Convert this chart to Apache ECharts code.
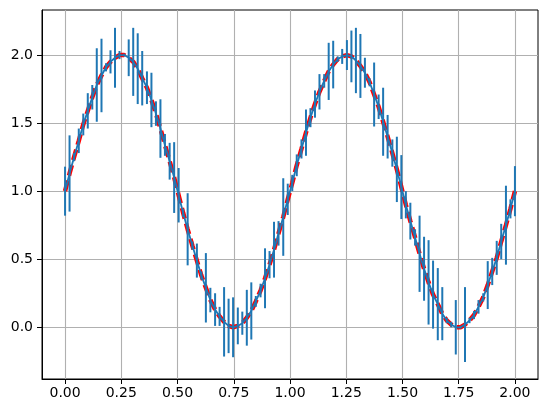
<!DOCTYPE html>
<html>
<head>
<meta charset="utf-8">
<style>
    html, body { margin: 0; padding: 0; background: #fff; }
    #main { width: 547px; height: 413px; }
</style>
<script src="https://cdn.jsdelivr.net/npm/echarts@6/dist/echarts.min.js"></script>
</head>
<body>
<div id="main"></div>
<script>
    var xs = [0, 0.020, 0.040, 0.061, 0.081, 0.101, 0.121, 0.141, 0.162, 0.182,
        0.202, 0.222, 0.242, 0.263, 0.283, 0.303, 0.323, 0.343, 0.364, 0.384,
        0.404, 0.424, 0.444, 0.465, 0.485, 0.505, 0.525, 0.545, 0.566, 0.586,
        0.606, 0.626, 0.646, 0.667, 0.687, 0.707, 0.727, 0.747, 0.768, 0.788,
        0.808, 0.828, 0.848, 0.869, 0.889, 0.909, 0.929, 0.949, 0.970, 0.990,
        1.010, 1.030, 1.051, 1.071, 1.091, 1.111, 1.131, 1.152, 1.172, 1.192,
        1.212, 1.232, 1.253, 1.273, 1.293, 1.313, 1.333, 1.354, 1.374, 1.394,
        1.414, 1.434, 1.455, 1.475, 1.495, 1.515, 1.535, 1.556, 1.576, 1.596,
        1.616, 1.636, 1.657, 1.677, 1.697, 1.717, 1.737, 1.758, 1.778, 1.798,
        1.818, 1.838, 1.859, 1.879, 1.899, 1.919, 1.939, 1.960, 1.980, 2.000];
    var ys = [1.00, 1.13, 1.25, 1.37, 1.49, 1.59, 1.69, 1.78, 1.85, 1.91,
        1.95, 1.98, 2.00, 2.00, 1.98, 1.95, 1.90, 1.83, 1.76, 1.67,
        1.57, 1.46, 1.34, 1.22, 1.10, 0.97, 0.84, 0.72, 0.60, 0.49,
        0.38, 0.29, 0.20, 0.13, 0.08, 0.04, 0.01, 0.00, 0.01, 0.03,
        0.07, 0.12, 0.19, 0.27, 0.36, 0.46, 0.57, 0.69, 0.81, 0.94,
        1.06, 1.19, 1.31, 1.43, 1.54, 1.64, 1.73, 1.81, 1.88, 1.93,
        1.97, 1.99, 2.00, 1.99, 1.96, 1.92, 1.87, 1.80, 1.71, 1.62,
        1.51, 1.40, 1.28, 1.16, 1.03, 0.90, 0.78, 0.66, 0.54, 0.43,
        0.33, 0.24, 0.17, 0.10, 0.05, 0.02, 0.00, 0.00, 0.02, 0.05,
        0.09, 0.15, 0.22, 0.31, 0.41, 0.51, 0.63, 0.75, 0.87, 1.00];
    var yerr = [0.18, 0.28, 0.03, 0.09, 0.08, 0.13, 0.09, 0.27, 0.27, 0.03,
        0.085, 0.22, 0.03, 0.01, 0.135, 0.25, 0.26, 0.20, 0.12, 0.20,
        0.09, 0.215, 0.08, 0.135, 0.26, 0.20, 0.03, 0.265, 0.03, 0.125,
        0.03, 0.255, 0.09, 0.12, 0.07, 0.255, 0.20, 0.22, 0.135, 0.085,
        0.205, 0.21, 0.04, 0.05, 0.22, 0.10, 0.205, 0.09, 0.285, 0.115,
        0.06, 0.08, 0.07, 0.17, 0.07, 0.10, 0.13, 0.05, 0.21, 0.175,
        0.02, 0.055, 0.11, 0.19, 0.24, 0.235, 0.11, 0.03, 0.235, 0.09,
        0.25, 0.16, 0.10, 0.24, 0.235, 0.10, 0.135, 0.06, 0.28, 0.235,
        0.31, 0.25, 0.265, 0.195, 0.02, 0.02, 0.20, 0.01, 0.275, 0.02,
        0.03, 0.05, 0.03, 0.176, 0.10, 0.125, 0.13, 0.29, 0.07, 0.184];
    var xTicks = [0, 0.25, 0.5, 0.75, 1, 1.25, 1.5, 1.75, 2];
    var yTicks = [0, 0.5, 1, 1.5, 2];

    var myChart = echarts.init(document.getElementById('main'));

    var linePts = [];
    var barPts = [];
    for (var i = 0; i < xs.length; i++) {
        linePts.push([xs[i], ys[i]]);
        barPts.push([xs[i], ys[i], yerr[i]]);
    }

    var blue = '#1f77b4';
    var font = 'DejaVu Sans';

    var option = {
        animation: false,
        backgroundColor: '#fff',
        grid: {
            left: 42, top: 10, width: 496, height: 369,
            show: true, borderColor: '#000', borderWidth: 1, backgroundColor: 'transparent'
        },
        xAxis: {
            type: 'value',
            min: -0.1025,
            max: 2.1025,
            axisLine: { show: true, onZero: false, lineStyle: { color: '#000', width: 1 } },
            axisTick: { show: true, customValues: xTicks, length: 5, lineStyle: { color: '#000', width: 1 } },
            axisLabel: {
                customValues: xTicks, margin: 7, color: '#000', fontFamily: font, fontSize: 14,
                formatter: function (v) { return v.toFixed(2); }
            },
            splitLine: { show: true, lineStyle: { color: '#b0b0b0', width: 1.1 } }
        },
        yAxis: {
            type: 'value',
            min: -0.38,
            max: 2.331,
            axisLine: { show: true, onZero: false, lineStyle: { color: '#000', width: 1 } },
            axisTick: { show: true, customValues: yTicks, length: 5, lineStyle: { color: '#000', width: 1 } },
            axisLabel: {
                customValues: yTicks, margin: 9, color: '#000', fontFamily: font, fontSize: 14,
                formatter: function (v) { return v.toFixed(1); }
            },
            splitLine: { show: true, lineStyle: { color: '#b0b0b0', width: 1.1 } }
        },
        series: [
            {
                // true curve
                type: 'line',
                data: linePts,
                symbol: 'none',
                z: 2,
                lineStyle: { color: '#ff0000', width: 4.5, type: [11, 5] }
            },
            {
                // error bars
                type: 'custom',
                data: barPts,
                encode: { x: 0, y: 1 },
                z: 3,
                renderItem: function (params, api) {
                    var x = api.value(0), y = api.value(1), e = api.value(2);
                    var p1 = api.coord([x, y - e]);
                    var p2 = api.coord([x, y + e]);
                    return {
                        type: 'line',
                        shape: { x1: p1[0], y1: p1[1], x2: p2[0], y2: p2[1] },
                        style: { stroke: blue, lineWidth: 2 }
                    };
                }
            },
            {
                // measured line
                type: 'line',
                data: linePts,
                symbol: 'none',
                z: 4,
                lineStyle: { color: blue, width: 1.8 }
            }
        ]
    };

    myChart.setOption(option);
</script>
</body>
</html>
